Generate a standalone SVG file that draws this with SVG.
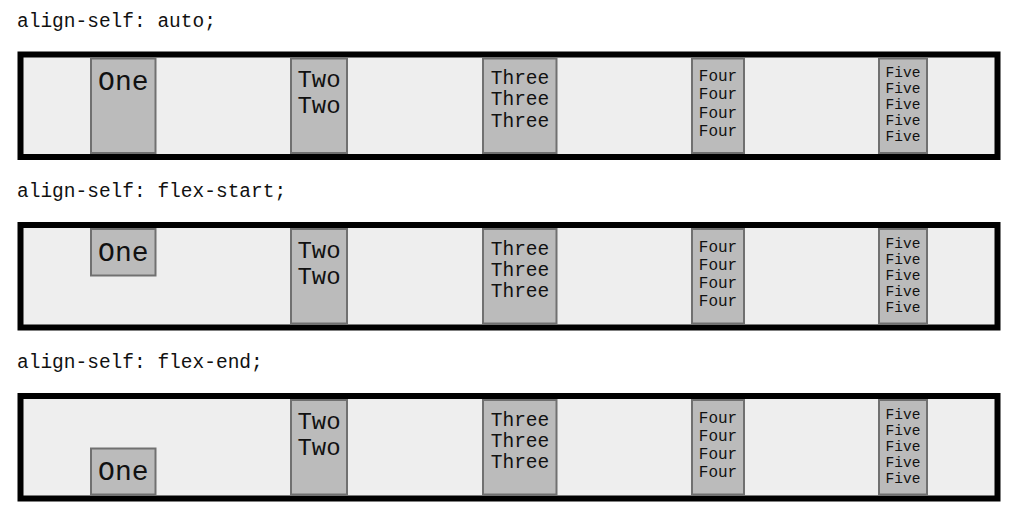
<svg xmlns="http://www.w3.org/2000/svg" width="1024" height="519" viewBox="0 0 1024 519">
<style>
text { font-family: "Courier New", "Liberation Mono", monospace; fill: #111; }
.hd { font-size: 19.5px; }
.box { fill: #eeeeee; stroke: #000; stroke-width: 6; }
.it { fill: #bbbbbb; stroke: #707070; stroke-width: 2; }
.t1 { font-size: 28px; text-anchor: middle; }
.t2 { font-size: 24px; text-anchor: middle; }
.t3 { font-size: 19.5px; text-anchor: middle; }
.t4 { font-size: 16px; text-anchor: middle; }
.t5 { font-size: 14.5px; text-anchor: middle; }
</style>
<rect width="1024" height="519" fill="#ffffff"/>
<defs>
  <g id="rest">
    <g class="two"><rect class="it" x="291" y="58.5" width="56" height="94.5"/>
      <text class="t2" x="319" y="87">Two</text><text class="t2" x="319" y="113">Two</text></g>
    <g class="three"><rect class="it" x="483" y="58.5" width="73.5" height="94.5"/>
      <text class="t3" x="520" y="84">Three</text><text class="t3" x="520" y="105.3">Three</text><text class="t3" x="520" y="126.6">Three</text></g>
    <g class="four"><rect class="it" x="692" y="58.5" width="52" height="94.5"/>
      <text class="t4" x="718" y="81.2">Four</text><text class="t4" x="718" y="99.4">Four</text><text class="t4" x="718" y="117.6">Four</text><text class="t4" x="718" y="135.8">Four</text></g>
    <g class="five"><rect class="it" x="879" y="58.5" width="48" height="94.5"/>
      <text class="t5" x="903" y="77.2">Five</text><text class="t5" x="903" y="93.2">Five</text><text class="t5" x="903" y="109.2">Five</text><text class="t5" x="903" y="125.2">Five</text><text class="t5" x="903" y="141.2">Five</text></g>
  </g>
</defs>

<g id="row-auto">
  <text class="hd" x="17" y="26.7">align-self: auto;</text>
  <rect class="box" x="20.5" y="54.5" width="977" height="102.5"/>
  <g id="auto-one"><rect class="it" x="91" y="58.5" width="64.5" height="94.5"/><text class="t1" x="123.3" y="90">One</text></g>
  <use id="auto-others" href="#rest"/>
</g>

<g id="row-flex-start" transform="translate(0,170.5)">
  <text class="hd" x="17" y="26.2">align-self: flex-start;</text>
  <rect class="box" x="20.5" y="54.5" width="977" height="102.5"/>
  <g id="start-one"><rect class="it" x="91" y="58.5" width="64.5" height="46.5"/><text class="t1" x="123.3" y="90.2">One</text></g>
  <use id="start-others" href="#rest"/>
</g>

<g id="row-flex-end" transform="translate(0,341.5)">
  <text class="hd" x="17" y="26.2">align-self: flex-end;</text>
  <rect class="box" x="20.5" y="54.5" width="977" height="102.5"/>
  <g id="end-one"><rect class="it" x="91" y="107" width="64.5" height="46"/><text class="t1" x="123.3" y="138.5">One</text></g>
  <use id="end-others" href="#rest"/>
</g>
</svg>
